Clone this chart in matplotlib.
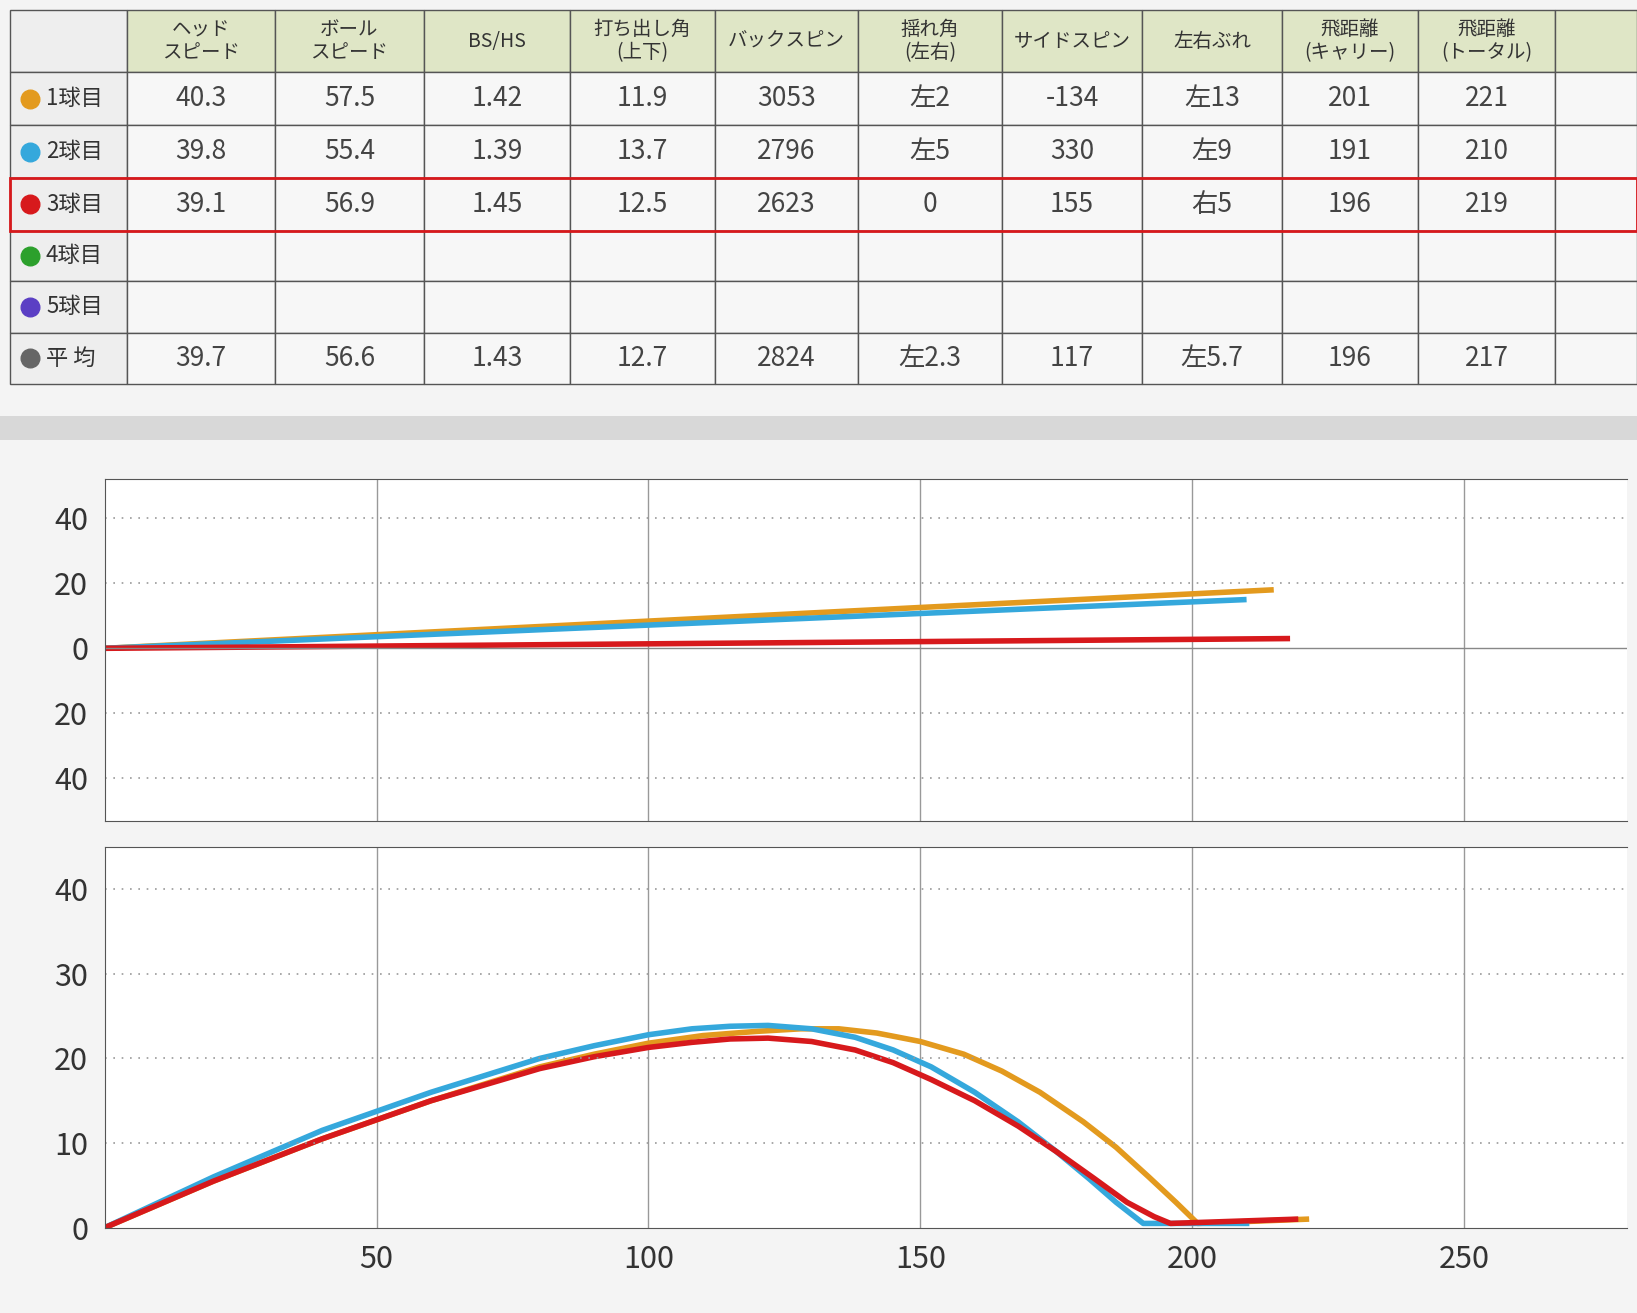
import matplotlib.pyplot as plt
from matplotlib.patches import Rectangle

plt.rcParams['font.family'] = ['Noto Sans CJK JP', 'DejaVu Sans']

headers = ["ヘッド\nスピード", "ボール\nスピード", "BS/HS", "打ち出し角\n(上下)", "バックスピン",
           "揺れ角\n(左右)", "サイドスピン", "左右ぶれ", "飛距離\n(キャリー)", "飛距離\n(トータル)"]
row_labels = ["1球目", "2球目", "3球目", "4球目", "5球目", "平 均"]
row_colors = ["#e39a1e", "#35a8dc", "#d7191c", "#2ca02c", "#5b3fc4", "#666666"]
rows = [
    ["40.3", "57.5", "1.42", "11.9", "3053", "左2", "-134", "左13", "201", "221"],
    ["39.8", "55.4", "1.39", "13.7", "2796", "左5", "330", "左9", "191", "210"],
    ["39.1", "56.9", "1.45", "12.5", "2623", "0", "155", "右5", "196", "219"],
    [""] * 10,
    [""] * 10,
    ["39.7", "56.6", "1.43", "12.7", "2824", "左2.3", "117", "左5.7", "196", "217"],
]

# lateral deviation (top view): distance, offset
side_x = {"1": [0, 215], "2": [0, 210], "3": [0, 218]}
side_y = {"1": [0, 18], "2": [0, 15], "3": [0, 3]}

# height profile (side view)
prof_x = {
    "1": [0, 20, 40, 60, 80, 90, 100, 110, 120, 128, 135, 142, 150, 158, 165, 172, 180, 186, 192, 197, 201, 221],
    "2": [0, 20, 40, 60, 80, 90, 100, 108, 115, 122, 130, 138, 145, 152, 160, 168, 175, 181, 186, 189, 191, 210],
    "3": [0, 20, 40, 60, 80, 90, 100, 108, 115, 122, 130, 138, 145, 152, 160, 168, 175, 182, 188, 193, 196, 219],
}
prof_y = {
    "1": [0, 5.5, 10.5, 15, 19, 20.5, 21.8, 22.7, 23.2, 23.5, 23.5, 23.0, 22.0, 20.5, 18.5, 16.0, 12.5, 9.5, 6.0, 3.0, 0.5, 1],
    "2": [0, 6, 11.5, 16, 20, 21.5, 22.8, 23.5, 23.8, 23.9, 23.5, 22.5, 21.0, 19.0, 16.0, 12.5, 9.0, 5.8, 3.0, 1.5, 0.5, 0.5],
    "3": [0, 5.5, 10.5, 15, 18.8, 20.2, 21.3, 21.9, 22.3, 22.4, 22.0, 21.0, 19.5, 17.5, 15.0, 12.0, 9.0, 5.8, 3.0, 1.3, 0.5, 1],
}
line_colors = {"1": "#e39a1e", "2": "#35a8dc", "3": "#d7191c"}

fig = plt.figure(figsize=(16.37, 13.13), dpi=100)
fig.patch.set_facecolor("#f4f4f4")

# ---- table
tax = fig.add_axes([0, 0.70, 1, 0.30])
tax.set_xlim(0, 1637)
tax.set_ylim(393, 0)
tax.axis("off")
col_edges = [10, 127, 275, 424, 570, 715, 858, 1002, 1142, 1282, 1418, 1555, 1637]
row_edges = [10, 72, 125, 178, 230, 280, 332, 383]
for r in range(7):
    for c in range(12):
        x0, x1 = col_edges[c], col_edges[c + 1]
        y0, y1 = row_edges[r], row_edges[r + 1]
        if r == 0:
            fc = "#dfe6c6" if c > 0 else "#eeeeee"
        else:
            fc = "#eeeeee" if c == 0 else "#f7f7f7"
        tax.add_patch(Rectangle((x0, y0), x1 - x0, y1 - y0, fc=fc, ec="#555555", lw=1))
        cx, cy = (x0 + x1) / 2, (y0 + y1) / 2
        if r == 0 and 1 <= c <= 10:
            tax.text(cx, cy, headers[c - 1], ha="center", va="center", fontsize=14,
                     linespacing=1.1, color="#333333")
        elif r > 0 and c == 0:
            tax.scatter([x0 + 20], [cy], s=180, color=row_colors[r - 1], zorder=3)
            tax.text(x0 + 36, cy, row_labels[r - 1], ha="left", va="center", fontsize=16,
                     color="#333333")
        elif r > 0 and 1 <= c <= 10:
            tax.text(cx, cy, rows[r - 1][c - 1], ha="center", va="center", fontsize=19,
                     color="#444444")
tax.add_patch(Rectangle((10, 178), 1627, 52, fc="none", ec="#d7191c", lw=2, zorder=4))
fig.add_artist(Rectangle((0, 0.665), 1, 0.018, transform=fig.transFigure,
                         fc="#d8d8d8", ec="none"))

xticks = [50, 100, 150, 200, 250]

# ---- top view
ax1 = fig.add_axes([0.064, 0.375, 0.93, 0.26])
for k in side_x:
    ax1.plot(side_x[k], side_y[k], color=line_colors[k], lw=4, solid_capstyle="butt")
ax1.set_xlim(0, 280)
ax1.set_ylim(-53, 52)
ax1.set_yticks([-40, -20, 0, 20, 40])
ax1.set_yticklabels(["40", "20", "0", "20", "40"])
ax1.set_xticks(xticks)
ax1.set_xticklabels([])
ax1.grid(axis="x", color="#999999", lw=1)
for v in [-40, -20, 20, 40]:
    ax1.axhline(v, color="#999999", lw=1.2, ls=(0, (1, 4)))
ax1.axhline(0, color="#888888", lw=1)

# ---- side view
ax2 = fig.add_axes([0.064, 0.065, 0.93, 0.29])
for k in prof_x:
    ax2.plot(prof_x[k], prof_y[k], color=line_colors[k], lw=4)
ax2.set_xlim(0, 280)
ax2.set_ylim(0, 45)
ax2.set_yticks([0, 10, 20, 30, 40])
ax2.set_xticks(xticks)
ax2.grid(axis="x", color="#999999", lw=1)
for v in [10, 20, 30, 40]:
    ax2.axhline(v, color="#999999", lw=1.2, ls=(0, (1, 4)))

for ax in (ax1, ax2):
    ax.set_facecolor("white")
    ax.tick_params(length=0, labelsize=22, colors="#333333", pad=12)
    for s in ax.spines.values():
        s.set_color("#555555")
    ax.spines["right"].set_visible(False)

fig.savefig("out.png", dpi=100, facecolor=fig.get_facecolor())
